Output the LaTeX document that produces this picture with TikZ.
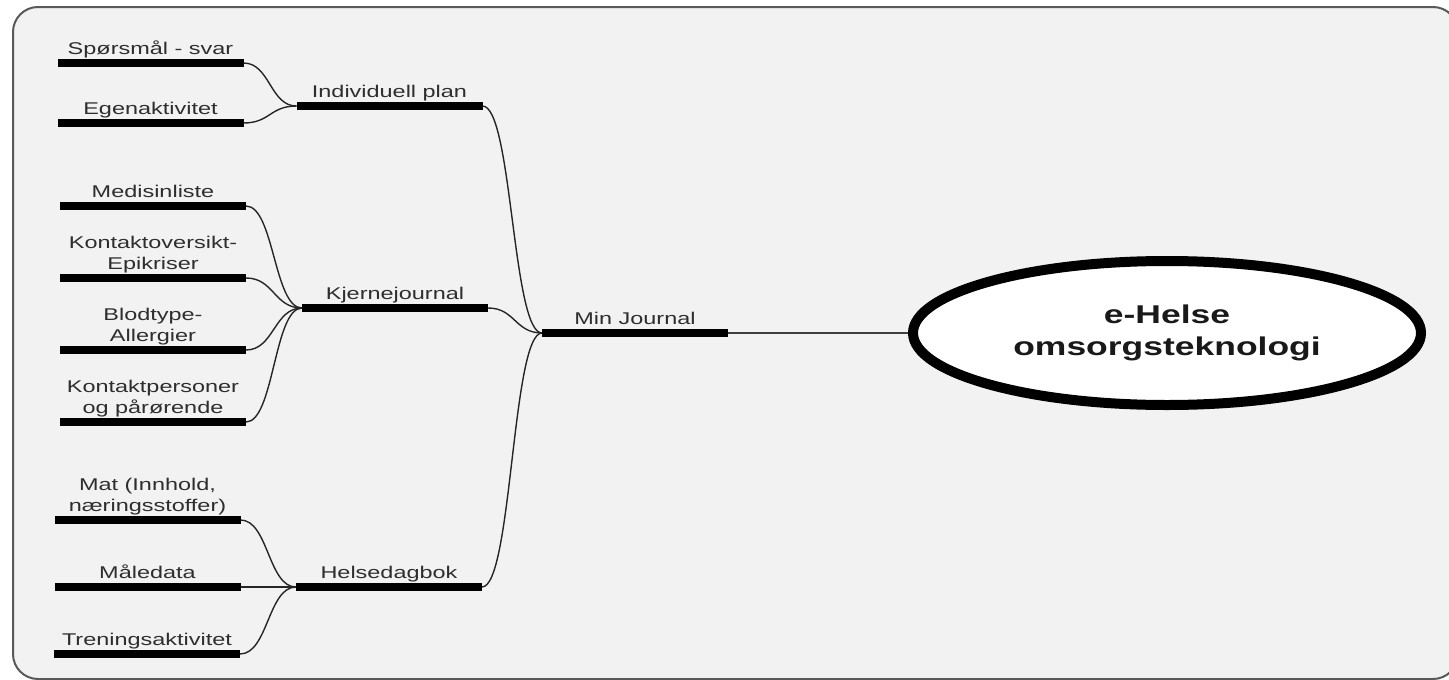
\documentclass[tikz,border=0pt]{standalone}
\usepackage{fontspec}
\newfontfamily\lblfont[FakeStretch=1.38]{Liberation Sans}
\usetikzlibrary{shapes.geometric,calc}
\begin{document}
\begin{tikzpicture}[x=1pt,y=-1pt,
  lbl/.style={font=\lblfont\fontsize{17}{21}\selectfont, text=black!82, inner sep=0pt, text depth=0pt, align=center},
  barnode/.style={fill=black, minimum width=186pt, minimum height=8pt, inner sep=0pt, outer sep=0pt,
    label={[lbl,label distance=4pt]above:{#1}}},
  link/.style={draw=black!85, line width=1.4pt,
    to path={let \p1=(\tikztostart), \p2=(\tikztotarget) in
      .. controls ({(\x1+\x2)/2},\y1) and ({(\x1+\x2)/2},\y2) .. (\tikztotarget)}},
  straightlink/.style={draw=black!75, line width=1.4pt},
  framebox/.style={draw=black!65, line width=2pt, fill=black!5, rounded corners=25pt},
  centre/.style={ellipse, draw=black, line width=10pt, fill=white, minimum width=508pt,
    minimum height=144pt, inner sep=0pt, align=center, text=black!90,
    font=\lblfont\bfseries\fontsize{25.7}{32}\selectfont}
]
\useasboundingbox (0,0) rectangle (1449,680);
\path[framebox] (13,7) rectangle (1458,679);

\node[barnode={Spørsmål - svar}] (sp) at (150.5,63) {};
\node[barnode={Egenaktivitet}] (eg) at (150.5,123) {};
\node[barnode={Individuell plan}] (ip) at (389.5,106) {};
\node[barnode={Medisinliste}] (me) at (153,206) {};
\node[barnode={Kontaktoversikt-\\Epikriser}] (ko) at (153,278) {};
\node[barnode={Blodtype-\\Allergier}] (bl) at (153,350) {};
\node[barnode={Kontaktpersoner\\og pårørende}] (kp) at (153,422) {};
\node[barnode={Kjernejournal}] (kj) at (395,308) {};
\node[barnode={Mat (Innhold,\\næringsstoffer)}] (mat) at (147.5,520) {};
\node[barnode={Måledata}] (ma) at (147.5,587) {};
\node[barnode={Treningsaktivitet}] (tr) at (147,654) {};
\node[barnode={Helsedagbok}] (hd) at (389,587) {};
\node[barnode={Min Journal}] (mj) at (635,333) {};
\node[centre] (eh) at (1167,333) {e-Helse\\omsorgsteknologi};

\draw[link] (sp.east) to (ip.west);
\draw[link] (eg.east) to (ip.west);
\draw[link] (me.east) to (kj.west);
\draw[link] (ko.east) to (kj.west);
\draw[link] (bl.east) to (kj.west);
\draw[link] (kp.east) to (kj.west);
\draw[link] (mat.east) to (hd.west);
\draw[link] (ma.east) to (hd.west);
\draw[link] (tr.east) to (hd.west);
\draw[link] (ip.east) to (mj.west);
\draw[link] (kj.east) to (mj.west);
\draw[link] (hd.east) to (mj.west);
\draw[straightlink] (mj.east) -- (eh.west);
\end{tikzpicture}
\end{document}
